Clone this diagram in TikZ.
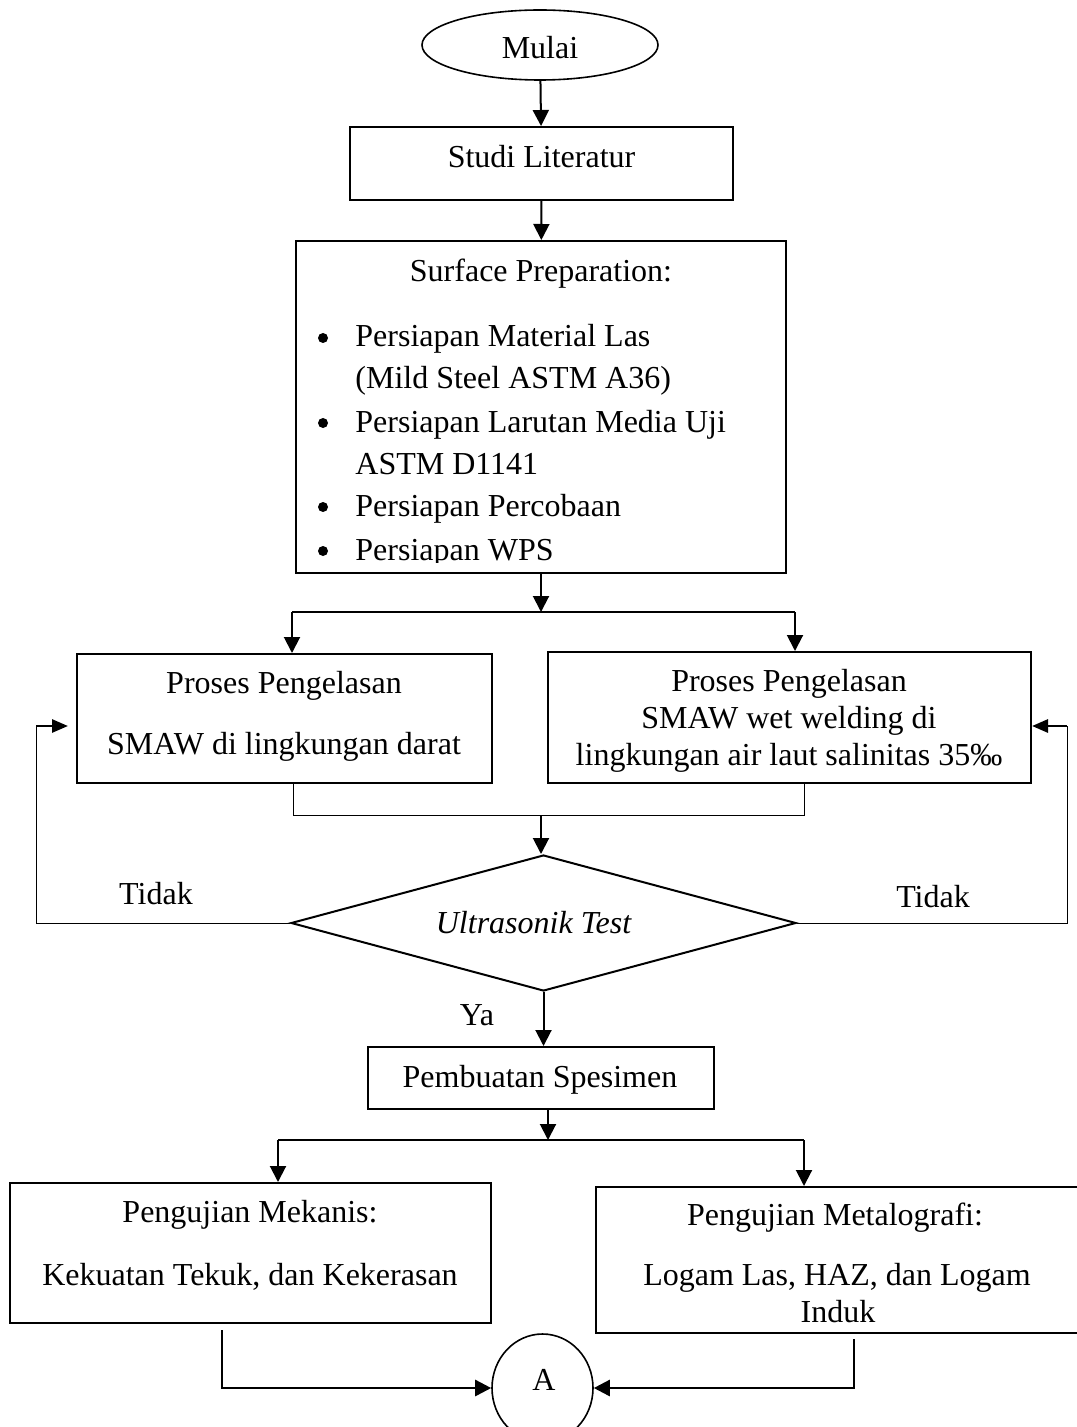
\documentclass[tikz,border=0pt]{standalone}
\usepackage{fontspec}
\setmainfont{Liberation Serif}
\usetikzlibrary{shapes.geometric,arrows.meta}
\begin{document}
\begin{tikzpicture}[x=0.5pt,y=-0.5pt,
  font=\fontsize{16}{19}\selectfont,
  box/.style={draw,line width=1pt,rectangle,inner sep=0pt},
  txt/.style={anchor=base,inner sep=0pt},
  dot/.style={circle,fill,inner sep=0pt,minimum size=5pt},
  arr/.style={line width=1pt,-{Triangle[length=8pt,width=8pt]}},
  thinl/.style={line width=0.5pt}]
\useasboundingbox (0,0) rectangle (1076,1427);

% start
\node[draw,ellipse,line width=0.8pt,minimum width=118pt,minimum height=35pt,inner sep=0pt] (start) at (540,45) {};
\node[txt] (tstart) at (540,59) {Mulai};

% studi literatur
\node[box,minimum width=191.5pt,minimum height=36.5pt] (studi) at (541.5,163.5) {};
\node[txt] (tstudi) at (541.5,168) {Studi Literatur};

% surface preparation
\node[box,minimum width=245pt,minimum height=166pt] (surf) at (541,407) {};
\node[txt] (tsurf) at (541,282) {Surface Preparation:};
\node[dot] (b1) at (323,338) {};
\node[dot] (b2) at (323,423) {};
\node[dot] (b3) at (323,507) {};
\begin{scope}
\clip (296,241) rectangle (786,562);
\node[txt,anchor=base west] (l1) at (355,347) {Persiapan Material Las};
\node[txt,anchor=base west] (l2) at (355,389) {(Mild Steel ASTM A36)};
\node[txt,anchor=base west] (l3) at (355,432) {Persiapan Larutan Media Uji};
\node[txt,anchor=base west] (l4) at (355,474) {ASTM D1141};
\node[txt,anchor=base west] (l5) at (355,516) {Persiapan Percobaan};
\node[dot] (b4) at (323,551) {};
\node[txt,anchor=base west] (l6) at (355,560) {Persiapan WPS};
\end{scope}

% proses boxes
\node[box,minimum width=207.5pt,minimum height=64.5pt] (p1) at (284.5,718.5) {};
\node[txt] (p1a) at (284,693) {Proses Pengelasan};
\node[txt] (p1b) at (284,754) {SMAW di lingkungan darat};
\node[box,minimum width=241.5pt,minimum height=65.5pt] (p2) at (789.5,717.5) {};
\node[txt] (p2a) at (789,691) {Proses Pengelasan};
\node[txt] (p2b) at (789,728) {SMAW wet welding di};
\node[txt] (p2c) at (789,765) {lingkungan air laut salinitas 35‰};

% decision
\node[draw,diamond,line width=1pt,minimum width=252.5pt,minimum height=68pt,inner sep=0pt] (dec) at (543.5,923) {};
\node[txt] (tdec) at (533.5,933) {\itshape Ultrasonik Test};
\node[txt] (tidakL) at (156,904) {Tidak};
\node[txt] (tidakR) at (933,907) {Tidak};
\node[txt] (ya) at (477,1025) {Ya};

% pembuatan spesimen
\node[box,minimum width=173pt,minimum height=31pt] (pemb) at (541,1078) {};
\node[txt] (tpemb) at (540,1087) {Pembuatan Spesimen};

% pengujian boxes
\node[box,minimum width=240.5pt,minimum height=70pt] (m1) at (250.5,1253) {};
\node[txt] (m1a) at (250,1222) {Pengujian Mekanis:};
\node[txt] (m1b) at (250,1285) {Kekuatan Tekuk, dan Kekerasan};
\node[box,minimum width=241pt,minimum height=73pt] (m2) at (837,1260) {};
\node[txt] (m2a) at (835,1225) {Pengujian Metalografi:};
\node[txt] (m2b) at (837,1285) {Logam Las, HAZ, dan Logam};
\node[txt] (m2c) at (838,1322) {Induk};

% connector A
\node[draw,ellipse,line width=0.8pt,minimum width=50.5pt,minimum height=54pt,inner sep=0pt] (A) at (542.5,1388) {};
\node[txt] (tA) at (544,1390) {A};

% coordinates
\coordinate (s1) at (541,612);
\coordinate (s1L) at (292,612);
\coordinate (s1R) at (795,612);
\coordinate (j1) at (541,815);
\coordinate (j1L) at (293,815);
\coordinate (j1R) at (804,815);
\coordinate (fbL) at (36,726);
\coordinate (fbR) at (1067,726);
\coordinate (s2) at (548,1140);
\coordinate (s2L) at (278,1140);
\coordinate (s2R) at (804,1140);
\coordinate (aLt) at (222,1330);
\coordinate (aRt) at (854,1339);

% connectors
\draw[arr] (start) -- (studi);
\draw[arr] (studi) -- (surf);
\draw[arr] (surf.south) -- (s1);
\draw[line width=1pt] (s1L) -- (s1R);
\draw[arr] (s1L) -- (s1L |- p1.north);
\draw[arr] (s1R) -- (s1R |- p2.north);
\draw[thinl] (j1L |- p1.south) -- (j1L) -- (j1R) -- (j1R |- p2.south);
\draw[arr] (j1) -- (j1 |- dec.north);
\draw[thinl] (dec.west) -| (fbL);
\draw[line width=1.4pt,-{Triangle[length=8pt,width=6.5pt]},shorten >=4pt] (fbL) -- (fbL -| p1.west);
\draw[thinl] (dec.east) -| (fbR);
\draw[line width=1.4pt,-{Triangle[length=8pt,width=6.5pt]}] (fbR) -- (fbR -| p2.east);
\draw[arr] (dec.south) -- (dec.south |- pemb.north);
\draw[arr] (pemb.south -| s2) -- (s2);
\draw[line width=1pt] (s2L) -- (s2R);
\draw[arr] (s2L) -- (s2L |- m1.north);
\draw[arr] (s2R) -- (s2R |- m2.north);
\draw[arr,line width=1.3pt] (aLt) |- (A.west);
\draw[arr,line width=1.3pt] (aRt) |- (A.east);
\end{tikzpicture}
\end{document}
